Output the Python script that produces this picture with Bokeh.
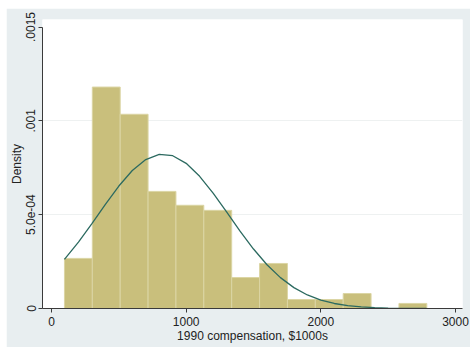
from bokeh.plotting import figure
from bokeh.models import Range1d, FixedTicker, ColumnDataSource
from bokeh.embed import file_html
from bokeh.resources import INLINE

# Histogram of 1990 compensation (density scale), 13 equal-width bins
bin_edges = [96, 303, 510, 717, 924, 1131, 1338, 1545, 1752, 1959, 2166, 2373, 2580, 2787]
bin_density = [0.000267, 0.00118, 0.001035, 0.000624, 0.00055, 0.000523,
               0.000165, 0.00024, 0.000048, 0.000048, 0.00008, 0.0, 0.000027]

# Overlaid normal density curve
curve_x = [96, 200, 300, 400, 500, 600, 700, 800, 900, 1000, 1100, 1200, 1300, 1400,
           1500, 1600, 1700, 1800, 1900, 2000, 2100, 2200, 2300, 2400, 2500, 2600, 2700, 2785]
curve_y = [0.0002618, 0.0003538, 0.0004528, 0.0005553, 0.0006526, 0.0007352, 0.0007936,
           0.0008210, 0.0008141, 0.0007736, 0.0007045, 0.0006149, 0.0005143, 0.0004123,
           0.0003168, 0.0002333, 0.0001646, 0.0001113, 0.0000722, 0.0000448, 0.0000267,
           0.0000152, 0.0000083, 0.0000044, 0.0000022, 0.0000011, 0.0000005, 0.0000002]

x_ticks = [0, 1000, 2000, 3000]
y_ticks = [0, 0.0005, 0.001, 0.0015]
y_tick_labels = ["0", "5.0e-04", ".001", ".0015"]

BG = "#e8eef0"
FONT = "Liberation Sans"

p = figure(width=464, height=339, output_backend="svg", toolbar_location=None,
           x_range=Range1d(-67, 3052), y_range=Range1d(0, 0.00154),
           min_border_left=35, min_border_right=8, min_border_top=11, min_border_bottom=39,
           border_fill_color=BG, background_fill_color="white",
           outline_line_color=None, margin=(8, 0, 0, 6))

src = ColumnDataSource(dict(left=bin_edges[:-1], right=bin_edges[1:],
                            top=bin_density, bottom=[0] * len(bin_density)))
p.quad(left="left", right="right", top="top", bottom="bottom", source=src,
       fill_color="#c9bf7c", line_color="#dbd5a4", line_width=1)

p.line(curve_x, curve_y, line_color="#2c6a60", line_width=1.3)

# axes
p.xaxis.ticker = FixedTicker(ticks=x_ticks)
p.xaxis.axis_label = "1990 compensation, $1000s"
p.yaxis.ticker = FixedTicker(ticks=y_ticks)
p.yaxis.major_label_overrides = {t: s for t, s in zip(y_ticks, y_tick_labels)}
p.yaxis.major_label_orientation = "vertical"
p.yaxis.axis_label = "Density"
p.yaxis.bounds = (0, 0.0015)

for ax in (p.xaxis[0], p.yaxis[0]):
    ax.axis_line_color = "#3a3a3a"
    ax.axis_line_width = 1
    ax.major_tick_line_color = "#3a3a3a"
    ax.major_tick_in = 0
    ax.major_tick_out = 4
    ax.minor_tick_line_color = None
    ax.major_label_text_font = FONT
    ax.major_label_text_font_size = "12px"
    ax.major_label_text_color = "#222222"
    ax.axis_label_text_font = FONT
    ax.axis_label_text_font_size = "12px"
    ax.axis_label_text_font_style = "normal"
    ax.axis_label_text_color = "#222222"
    ax.axis_label_standoff = 0

p.xaxis.major_label_standoff = 4
p.yaxis.major_label_standoff = 3

p.xgrid.grid_line_color = None
p.ygrid.ticker = FixedTicker(ticks=[0.0005, 0.001])
p.ygrid.grid_line_color = "#eef1f1"
p.ygrid.grid_line_width = 1

open("out.html", "w").write(file_html(p, INLINE))
